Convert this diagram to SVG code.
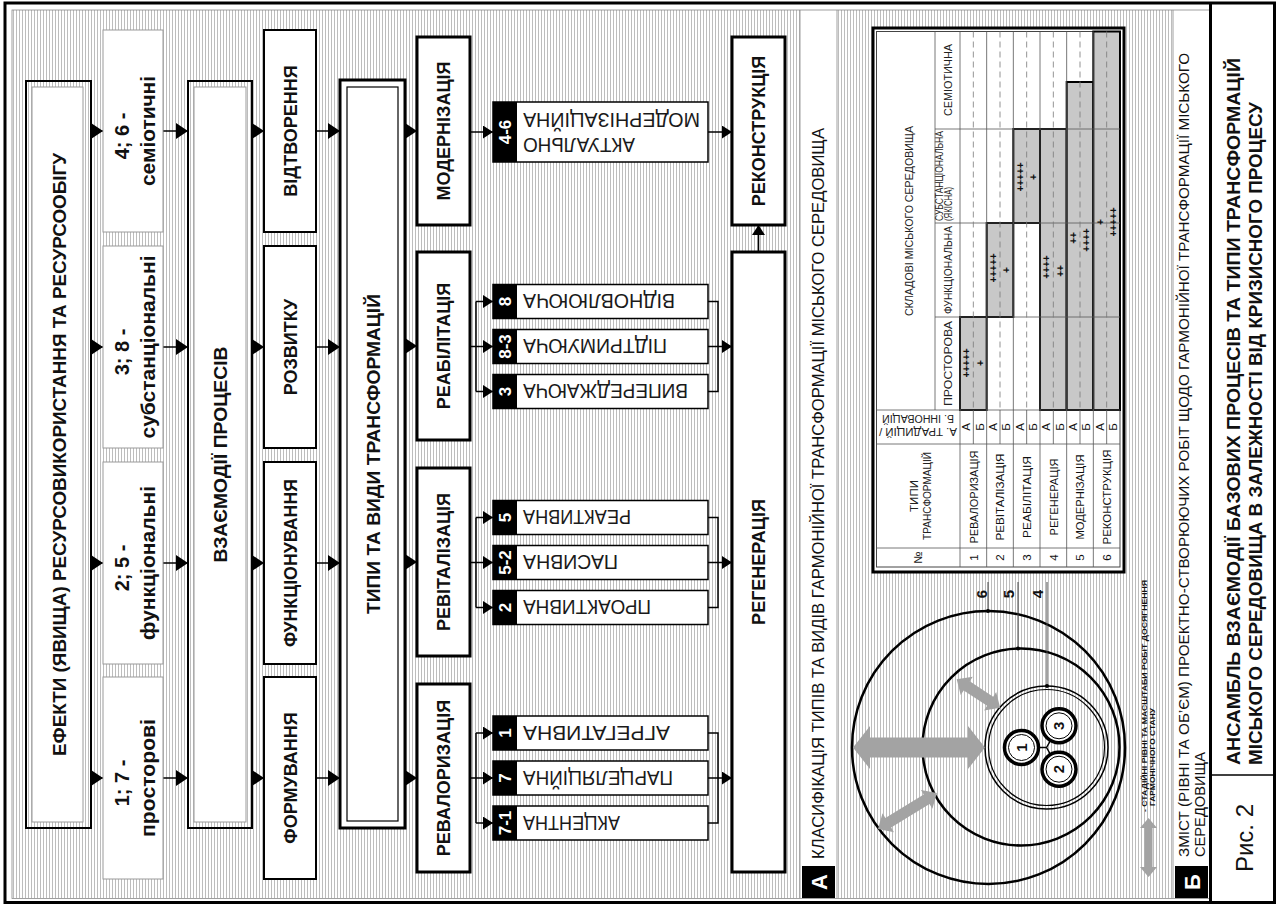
<svg xmlns="http://www.w3.org/2000/svg" width="1277" height="906" viewBox="0 0 1277 906">
<defs>
<pattern id="hatch" width="3" height="10" patternUnits="userSpaceOnUse"><rect width="3" height="10" fill="#fff"/><line x1="1.5" y1="0" x2="1.5" y2="10" stroke="#bdbdbd" stroke-width="1"/></pattern>
<marker id="ah" markerUnits="userSpaceOnUse" markerWidth="12" markerHeight="16" viewBox="0 0 12 16" refX="12" refY="8" orient="auto"><path d="M0,0L12,8L0,16z" fill="#000"/></marker>
<marker id="as" markerUnits="userSpaceOnUse" markerWidth="10" markerHeight="13" viewBox="0 0 10 13" refX="10" refY="6.5" orient="auto"><path d="M0,0L10,6.5L0,13z" fill="#000"/></marker>
<style>
text{font-family:"Liberation Sans",Arial,sans-serif;fill:#111}
.bd{font-weight:bold}
.w{fill:#fff}
.eb{fill:#fff;stroke:#9a9a9a;stroke-width:1}
.pb{fill:#fff;stroke:#000;stroke-width:2}
.tb{fill:#fff;stroke:#000;stroke-width:3}
.sb{fill:#fff;stroke:#000;stroke-width:1.5}
.badge{fill:#000}
.conn line,.conn path{stroke:#000;stroke-width:1.5;fill:none}
.arr{marker-end:url(#ah)}
.ars{marker-end:url(#as)}
.grid{stroke:#555;stroke-width:0.8;fill:none}
.dash{stroke:#777;stroke-width:0.8;stroke-dasharray:6 4;fill:none}
.shade{fill:#c8c8c8;stroke:#000;stroke-width:2}
.gar{fill:#a3a3a3}
.sub{font-size:20px;fill:#1a1a1a}
.badt{font-size:17px;font-weight:bold;fill:#fff}
.tt{font-size:11.5px;fill:#222}
.pl{font-size:10px;font-weight:bold}
</style>
</defs>

<!-- background and panels -->
<rect x="0" y="0" width="1277" height="906" fill="#fff"/>
<rect x="12" y="10" width="788" height="888" fill="url(#hatch)"/>
<rect x="837" y="10" width="336" height="888" fill="url(#hatch)"/>

<!-- frame -->
<g id="frame" fill="none">
<rect x="12" y="10" width="1198" height="888.5" stroke="#888" stroke-width="0.8"/>
<line x1="800" y1="10" x2="800" y2="898" stroke="#888" stroke-width="0.8"/>
<line x1="837" y1="10" x2="837" y2="898" stroke="#888" stroke-width="0.8"/>
<line x1="1173" y1="10" x2="1173" y2="898" stroke="#888" stroke-width="0.8"/>
<rect x="5" y="3" width="1269.5" height="899.5" stroke="#000" stroke-width="3"/>
<line x1="1210.5" y1="3" x2="1210.5" y2="902.5" stroke="#000" stroke-width="3"/>
<line x1="1210.5" y1="775" x2="1274.5" y2="775" stroke="#000" stroke-width="1.5"/>
</g>

<!-- connectors -->
<g id="connectors" class="conn">
<line class="arr" x1="91" y1="131" x2="103" y2="131"/>
<line class="arr" x1="91" y1="347" x2="103" y2="347"/>
<line class="arr" x1="91" y1="563" x2="103" y2="563"/>
<line class="arr" x1="91" y1="778" x2="103" y2="778"/>
<line class="arr" x1="163" y1="131" x2="188" y2="131"/>
<line class="arr" x1="163" y1="347" x2="188" y2="347"/>
<line class="arr" x1="163" y1="563" x2="188" y2="563"/>
<line class="arr" x1="163" y1="778" x2="188" y2="778"/>
<line class="arr" x1="252" y1="131" x2="264" y2="131"/>
<line class="arr" x1="252" y1="347" x2="264" y2="347"/>
<line class="arr" x1="252" y1="563" x2="264" y2="563"/>
<line class="arr" x1="252" y1="778" x2="264" y2="778"/>
<line class="arr" x1="316" y1="131" x2="340" y2="131"/>
<line class="arr" x1="316" y1="347" x2="340" y2="347"/>
<line class="arr" x1="316" y1="563" x2="340" y2="563"/>
<line class="arr" x1="316" y1="778" x2="340" y2="778"/>
<line class="arr" x1="405" y1="131" x2="417" y2="131"/>
<line class="arr" x1="405" y1="346" x2="417" y2="346"/>
<line class="arr" x1="405" y1="562" x2="417" y2="562"/>
<line class="arr" x1="405" y1="778" x2="417" y2="778"/>
<!-- type to sub-types -->
<line class="ars" x1="470" y1="132" x2="493" y2="132"/>
<line class="ars" x1="470" y1="346.5" x2="493" y2="346.5"/>
<path d="M476,301.5V391.5"/>
<line class="ars" x1="476" y1="301.5" x2="493" y2="301.5"/>
<line class="ars" x1="476" y1="391.5" x2="493" y2="391.5"/>
<line class="ars" x1="470" y1="562.5" x2="493" y2="562.5"/>
<path d="M476,517.5V607.5"/>
<line class="ars" x1="476" y1="517.5" x2="493" y2="517.5"/>
<line class="ars" x1="476" y1="607.5" x2="493" y2="607.5"/>
<line class="ars" x1="470" y1="778" x2="493" y2="778"/>
<path d="M476,733V823"/>
<line class="ars" x1="476" y1="733" x2="493" y2="733"/>
<line class="ars" x1="476" y1="823" x2="493" y2="823"/>
<!-- sub-types to results -->
<line class="ars" x1="708" y1="132" x2="732" y2="132"/>
<path d="M708,301.5H718V391.5H708"/>
<line class="ars" x1="708" y1="346.5" x2="732" y2="346.5"/>
<path d="M708,517.5H718V607.5H708"/>
<line class="ars" x1="708" y1="562.5" x2="732" y2="562.5"/>
<path d="M708,733H718V823H708"/>
<line class="ars" x1="708" y1="778" x2="732" y2="778"/>
<line class="ars" x1="758.5" y1="252" x2="758.5" y2="225"/>
</g>

<!-- column 1: effects -->
<g id="effects-main">
<rect x="26" y="81" width="65" height="747" fill="none" stroke="#000" stroke-width="2"/>
<rect x="32" y="87" width="51" height="735" class="eb"/>
<text class="bd" font-size="19" text-anchor="middle" textLength="603" lengthAdjust="spacingAndGlyphs" transform="translate(65.5 454.5) rotate(-90)">ЕФЕКТИ (ЯВИЩА) РЕСУРСОВИКОРИСТАННЯ ТА РЕСУРСООБІГУ</text>
</g>
<g id="effect-semiotic">
<rect x="103" y="30" width="60" height="202" class="eb"/>
<text class="bd" font-size="20" text-anchor="middle" transform="translate(128.5 136) rotate(-90)">4; 6 -</text>
<text class="bd" font-size="20" text-anchor="middle" textLength="110" lengthAdjust="spacingAndGlyphs" transform="translate(155 131) rotate(-90)">семіотичні</text>
</g>
<g id="effect-substantial">
<rect x="103" y="246" width="60" height="202" class="eb"/>
<text class="bd" font-size="20" text-anchor="middle" transform="translate(128.5 352) rotate(-90)">3; 8 -</text>
<text class="bd" font-size="20" text-anchor="middle" textLength="183" lengthAdjust="spacingAndGlyphs" transform="translate(155 347) rotate(-90)">субстанціональні</text>
</g>
<g id="effect-functional">
<rect x="103" y="462" width="60" height="202" class="eb"/>
<text class="bd" font-size="20" text-anchor="middle" transform="translate(128.5 568) rotate(-90)">2; 5 -</text>
<text class="bd" font-size="20" text-anchor="middle" textLength="154" lengthAdjust="spacingAndGlyphs" transform="translate(155 563) rotate(-90)">функціональні</text>
</g>
<g id="effect-spatial">
<rect x="103" y="677" width="60" height="202" class="eb"/>
<text class="bd" font-size="20" text-anchor="middle" transform="translate(128.5 783) rotate(-90)">1; 7 -</text>
<text class="bd" font-size="20" text-anchor="middle" textLength="118" lengthAdjust="spacingAndGlyphs" transform="translate(155 778) rotate(-90)">просторові</text>
</g>

<!-- column 2: processes -->
<g id="interaction">
<rect x="188" y="81" width="64" height="747" fill="none" stroke="#000" stroke-width="2"/>
<rect x="194" y="87" width="52" height="735" class="eb"/>
<text class="bd" font-size="19" text-anchor="middle" textLength="216" lengthAdjust="spacingAndGlyphs" transform="translate(227 454.5) rotate(-90)">ВЗАЄМОДІЇ ПРОЦЕСІВ</text>
</g>
<g id="proc-reproduction">
<rect x="264" y="30" width="52" height="202" class="pb"/>
<text class="bd" font-size="18" text-anchor="middle" transform="translate(296.5 131) rotate(-90)">ВІДТВОРЕННЯ</text>
</g>
<g id="proc-development">
<rect x="264" y="246" width="52" height="202" class="pb"/>
<text class="bd" font-size="18" text-anchor="middle" transform="translate(296.5 347) rotate(-90)">РОЗВИТКУ</text>
</g>
<g id="proc-functioning">
<rect x="264" y="462" width="52" height="202" class="pb"/>
<text class="bd" font-size="18" text-anchor="middle" textLength="168" lengthAdjust="spacingAndGlyphs" transform="translate(296.5 563) rotate(-90)">ФУНКЦІОНУВАННЯ</text>
</g>
<g id="proc-formation">
<rect x="264" y="677" width="52" height="202" class="pb"/>
<text class="bd" font-size="18" text-anchor="middle" transform="translate(296.5 778) rotate(-90)">ФОРМУВАННЯ</text>
</g>

<!-- column 3: types -->
<g id="types">
<rect x="340" y="80" width="65" height="748" class="tb"/>
<rect x="347" y="87" width="51" height="734" fill="#fff" stroke="#000" stroke-width="1.2"/>
<text class="bd" font-size="19" text-anchor="middle" textLength="320" lengthAdjust="spacingAndGlyphs" transform="translate(379.5 454) rotate(-90)">ТИПИ ТА ВИДИ ТРАНСФОРМАЦІЙ</text>
</g>
<g id="type-modernization">
<rect x="417" y="37" width="53" height="188" class="tb"/>
<text class="bd" font-size="18" text-anchor="middle" transform="translate(450 131) rotate(-90)">МОДЕРНІЗАЦІЯ</text>
</g>
<g id="type-rehabilitation">
<rect x="417" y="252" width="53" height="188" class="tb"/>
<text class="bd" font-size="18" text-anchor="middle" transform="translate(450 346) rotate(-90)">РЕАБІЛІТАЦІЯ</text>
</g>
<g id="type-revitalization">
<rect x="417" y="468" width="53" height="188" class="tb"/>
<text class="bd" font-size="18" text-anchor="middle" transform="translate(450 562) rotate(-90)">РЕВІТАЛІЗАЦІЯ</text>
</g>
<g id="type-revalorization">
<rect x="417" y="684" width="53" height="188" class="tb"/>
<text class="bd" font-size="18" text-anchor="middle" transform="translate(450 778) rotate(-90)">РЕВАЛОРИЗАЦІЯ</text>
</g>

<!-- sub-types -->
<g id="sub-4-6">
<rect x="493" y="102" width="215" height="60" class="sb"/>
<rect x="493" y="102" width="24" height="60" class="badge"/>
<text class="badt" text-anchor="middle" transform="translate(511 132) rotate(-90)">4-6</text>
<text class="sub" text-anchor="end" textLength="112" lengthAdjust="spacingAndGlyphs" transform="translate(523 137.5) rotate(180)">АКТУАЛЬНО</text>
<text class="sub" text-anchor="end" textLength="177" lengthAdjust="spacingAndGlyphs" transform="translate(523 113) rotate(180)">МОДЕРНІЗАЦІЙНА</text>
</g>
<g id="sub-8">
<rect x="493" y="284.5" width="215" height="34" class="sb"/>
<rect x="493" y="284.5" width="24" height="34" class="badge"/>
<text class="badt" text-anchor="middle" transform="translate(511 301.5) rotate(-90)">8</text>
<text class="sub" text-anchor="end" textLength="152" lengthAdjust="spacingAndGlyphs" transform="translate(523 294.3) rotate(180)">ВІДНОВЛЮЮЧА</text>
</g>
<g id="sub-8-3">
<rect x="493" y="329.5" width="215" height="34" class="sb"/>
<rect x="493" y="329.5" width="24" height="34" class="badge"/>
<text class="badt" text-anchor="middle" transform="translate(511 346.5) rotate(-90)">8-3</text>
<text class="sub" text-anchor="end" textLength="144" lengthAdjust="spacingAndGlyphs" transform="translate(523 339.3) rotate(180)">ПІДТРИМУЮЧА</text>
</g>
<g id="sub-3">
<rect x="493" y="374.5" width="215" height="34" class="sb"/>
<rect x="493" y="374.5" width="24" height="34" class="badge"/>
<text class="badt" text-anchor="middle" transform="translate(511 391.5) rotate(-90)">3</text>
<text class="sub" text-anchor="end" textLength="165" lengthAdjust="spacingAndGlyphs" transform="translate(523 384.3) rotate(180)">ВИПЕРЕДЖАЮЧА</text>
</g>
<g id="sub-5">
<rect x="493" y="500.5" width="215" height="34" class="sb"/>
<rect x="493" y="500.5" width="24" height="34" class="badge"/>
<text class="badt" text-anchor="middle" transform="translate(511 517.5) rotate(-90)">5</text>
<text class="sub" text-anchor="end" textLength="108" lengthAdjust="spacingAndGlyphs" transform="translate(523 510.3) rotate(180)">РЕАКТИВНА</text>
</g>
<g id="sub-5-2">
<rect x="493" y="545.5" width="215" height="34" class="sb"/>
<rect x="493" y="545.5" width="24" height="34" class="badge"/>
<text class="badt" text-anchor="middle" transform="translate(511 562.5) rotate(-90)">5-2</text>
<text class="sub" text-anchor="end" textLength="95" lengthAdjust="spacingAndGlyphs" transform="translate(523 555.3) rotate(180)">ПАСИВНА</text>
</g>
<g id="sub-2">
<rect x="493" y="590.5" width="215" height="34" class="sb"/>
<rect x="493" y="590.5" width="24" height="34" class="badge"/>
<text class="badt" text-anchor="middle" transform="translate(511 607.5) rotate(-90)">2</text>
<text class="sub" text-anchor="end" textLength="128" lengthAdjust="spacingAndGlyphs" transform="translate(523 600.3) rotate(180)">ПРОАКТИВНА</text>
</g>
<g id="sub-1">
<rect x="493" y="716" width="215" height="34" class="sb"/>
<rect x="493" y="716" width="24" height="34" class="badge"/>
<text class="badt" text-anchor="middle" transform="translate(511 733) rotate(-90)">1</text>
<text class="sub" text-anchor="end" textLength="147" lengthAdjust="spacingAndGlyphs" transform="translate(523 725.8) rotate(180)">АГРЕГАТИВНА</text>
</g>
<g id="sub-7">
<rect x="493" y="761" width="215" height="34" class="sb"/>
<rect x="493" y="761" width="24" height="34" class="badge"/>
<text class="badt" text-anchor="middle" transform="translate(511 778) rotate(-90)">7</text>
<text class="sub" text-anchor="end" textLength="150" lengthAdjust="spacingAndGlyphs" transform="translate(523 770.8) rotate(180)">ПАРЦЕЛЯЦІЙНА</text>
</g>
<g id="sub-7-1">
<rect x="493" y="806" width="215" height="34" class="sb"/>
<rect x="493" y="806" width="24" height="34" class="badge"/>
<text class="badt" text-anchor="middle" transform="translate(511 823) rotate(-90)">7-1</text>
<text class="sub" text-anchor="end" textLength="97" lengthAdjust="spacingAndGlyphs" transform="translate(523 815.8) rotate(180)">АКЦЕНТНА</text>
</g>

<!-- results -->
<g id="reconstruction">
<rect x="732" y="37" width="53" height="188" class="tb"/>
<text class="bd" font-size="18" text-anchor="middle" transform="translate(765 131) rotate(-90)">РЕКОНСТРУКЦІЯ</text>
</g>
<g id="regeneration">
<rect x="732" y="252" width="53" height="620" class="tb"/>
<text class="bd" font-size="18" text-anchor="middle" transform="translate(765 562) rotate(-90)">РЕГЕНЕРАЦІЯ</text>
</g>

<!-- caption A -->
<g id="caption-a">
<rect x="802" y="866" width="33" height="32" fill="#000"/>
<text class="bd w" font-size="22" text-anchor="middle" transform="translate(826.5 882) rotate(-90)">А</text>
<text font-size="17" fill="#222" textLength="731" lengthAdjust="spacingAndGlyphs" transform="translate(824 859) rotate(-90)">КЛАСИФІКАЦІЯ ТИПІВ ТА ВИДІВ ГАРМОНІЙНОЇ ТРАНСФОРМАЦІЇ МІСЬКОГО СЕРЕДОВИЩА</text>
</g>

<!-- table -->
<g id="table">
<rect x="873" y="28" width="251" height="544" fill="#fff" stroke="#000" stroke-width="3"/>
<rect x="876.5" y="31.5" width="243.5" height="535.5" fill="#fff" stroke="#444" stroke-width="1"/>
<rect x="960" y="317" width="26.67" height="93" class="shade"/>
<rect x="986.67" y="223" width="26.67" height="94" class="shade"/>
<rect x="1013.33" y="129" width="26.67" height="94" class="shade"/>
<rect x="1040" y="129" width="26.67" height="281" class="shade"/>
<rect x="1066.67" y="82" width="26.67" height="328" class="shade"/>
<rect x="1093.33" y="31.5" width="26.67" height="378.5" class="shade"/>
<path class="grid" d="M935,31.5V410M960,31.5V567M876.5,410H1120M876.5,444H1120M876.5,548H1120M935,317H1120M935,223H1120M935,129H1120M986.67,31.5V567M1013.33,31.5V567M1040,31.5V567M1066.67,31.5V567M1093.33,31.5V567"/>
<path class="dash" d="M973.33,31.5V410M1000,31.5V410M1026.67,31.5V410M1053.33,31.5V410M1080,31.5V410M1106.67,31.5V410"/>
<path class="grid" d="M973.33,410V444M1000,410V444M1026.67,410V444M1053.33,410V444M1080,410V444M1106.67,410V444"/>
<!-- header -->
<text class="tt" font-size="11" text-anchor="middle" transform="translate(922 557.5) rotate(-90)">№</text>
<text class="tt" font-size="11" text-anchor="middle" transform="translate(917.5 496) rotate(-90)">ТИПИ</text>
<text class="tt" font-size="11" text-anchor="middle" textLength="88" lengthAdjust="spacingAndGlyphs" transform="translate(931 496) rotate(-90)">ТРАНСФОРМАЦІЙ</text>
<text class="tt" font-size="9.5" text-anchor="middle" textLength="78" lengthAdjust="spacingAndGlyphs" transform="translate(918 427.5) rotate(180)">А. ТРАДИЦІЙ /</text>
<text class="tt" font-size="9.5" text-anchor="middle" textLength="72" lengthAdjust="spacingAndGlyphs" transform="translate(918 414.5) rotate(180)">Б. ІННОВАЦІЙ</text>
<text class="tt" font-size="12" text-anchor="middle" textLength="190" lengthAdjust="spacingAndGlyphs" transform="translate(913 221) rotate(-90)">СКЛАДОВІ МІСЬКОГО СЕРЕДОВИЩА</text>
<text class="tt" font-size="11" text-anchor="middle" textLength="85" lengthAdjust="spacingAndGlyphs" transform="translate(951.5 363.5) rotate(-90)">ПРОСТОРОВА</text>
<text class="tt" font-size="11" text-anchor="middle" textLength="88" lengthAdjust="spacingAndGlyphs" transform="translate(951.5 270) rotate(-90)">ФУНКЦІОНАЛЬНА</text>
<text class="tt" font-size="8" textLength="90" lengthAdjust="spacingAndGlyphs" transform="translate(942.5 221) rotate(-90)">СУБСТАНЦІОНАЛЬНА</text>
<text class="tt" font-size="7.5" textLength="34" lengthAdjust="spacingAndGlyphs" transform="translate(951.5 221) rotate(-90)">(ЯКІСНА)</text>
<text class="tt" font-size="11" text-anchor="middle" textLength="72" lengthAdjust="spacingAndGlyphs" transform="translate(951.5 80) rotate(-90)">СЕМІОТИЧНА</text>
<!-- rows -->
<g class="tt" text-anchor="middle">
<text transform="translate(977.5 557.5) rotate(-90)">1</text>
<text transform="translate(1004.2 557.5) rotate(-90)">2</text>
<text transform="translate(1030.8 557.5) rotate(-90)">3</text>
<text transform="translate(1057.5 557.5) rotate(-90)">4</text>
<text transform="translate(1084.2 557.5) rotate(-90)">5</text>
<text transform="translate(1110.8 557.5) rotate(-90)">6</text>
<text textLength="93" lengthAdjust="spacingAndGlyphs" transform="translate(977.5 497) rotate(-90)">РЕВАЛОРИЗАЦІЯ</text>
<text textLength="87" lengthAdjust="spacingAndGlyphs" transform="translate(1004.2 497) rotate(-90)">РЕВІТАЛІЗАЦІЯ</text>
<text textLength="82" lengthAdjust="spacingAndGlyphs" transform="translate(1030.8 497) rotate(-90)">РЕАБІЛІТАЦІЯ</text>
<text textLength="77" lengthAdjust="spacingAndGlyphs" transform="translate(1057.5 497) rotate(-90)">РЕГЕНЕРАЦІЯ</text>
<text textLength="85" lengthAdjust="spacingAndGlyphs" transform="translate(1084.2 497) rotate(-90)">МОДЕРНІЗАЦІЯ</text>
<text textLength="95" lengthAdjust="spacingAndGlyphs" transform="translate(1110.8 497) rotate(-90)">РЕКОНСТРУКЦІЯ</text>
</g>
<g class="tt" font-size="9.5" text-anchor="middle">
<text transform="translate(970.3 427) rotate(-90)">А</text>
<text transform="translate(983.7 427) rotate(-90)">Б</text>
<text transform="translate(997 427) rotate(-90)">А</text>
<text transform="translate(1010.3 427) rotate(-90)">Б</text>
<text transform="translate(1023.7 427) rotate(-90)">А</text>
<text transform="translate(1037 427) rotate(-90)">Б</text>
<text transform="translate(1050.3 427) rotate(-90)">А</text>
<text transform="translate(1063.7 427) rotate(-90)">Б</text>
<text transform="translate(1077 427) rotate(-90)">А</text>
<text transform="translate(1090.3 427) rotate(-90)">Б</text>
<text transform="translate(1103.7 427) rotate(-90)">А</text>
<text transform="translate(1117 427) rotate(-90)">Б</text>
</g>
<g class="pl" text-anchor="middle">
<text transform="translate(970.1 363) rotate(-90)">+++++</text>
<text transform="translate(983.5 363) rotate(-90)">+</text>
<text transform="translate(996.8 268) rotate(-90)">+++++</text>
<text transform="translate(1010.1 270) rotate(-90)">+</text>
<text transform="translate(1023.5 177) rotate(-90)">+++++</text>
<text transform="translate(1036.8 177) rotate(-90)">+</text>
<text transform="translate(1050.1 267) rotate(-90)">++++</text>
<text transform="translate(1063.5 271) rotate(-90)">++</text>
<text transform="translate(1076.8 238) rotate(-90)">++</text>
<text transform="translate(1090.1 240) rotate(-90)">++++</text>
<text transform="translate(1103.5 222) rotate(-90)">+</text>
<text transform="translate(1116.8 222) rotate(-90)">+++++</text>
</g>
</g>

<!-- circles scheme -->
<g id="levels">
<circle cx="988.5" cy="747.5" r="136.5" fill="none" stroke="#000" stroke-width="2.5"/>
<circle cx="1021" cy="747" r="98.5" fill="none" stroke="#000" stroke-width="2.5"/>
<circle cx="1046.5" cy="747.5" r="61.5" fill="none" stroke="#000" stroke-width="1.5"/>
<circle cx="1046.5" cy="747.5" r="58" fill="none" stroke="#000" stroke-width="1.2"/>
<path d="M988,582V611M1018,582V648.5M1047,582V686" stroke="#444" stroke-width="1" fill="none"/>
<circle cx="988" cy="611" r="2" fill="#000"/>
<circle cx="1018" cy="648.5" r="2" fill="#000"/>
<circle cx="1047" cy="686" r="2" fill="#000"/>
<text class="bd" font-size="15" text-anchor="middle" transform="translate(986.5 594) rotate(-90)">6</text>
<text class="bd" font-size="15" text-anchor="middle" transform="translate(1014 594) rotate(-90)">5</text>
<text class="bd" font-size="15" text-anchor="middle" transform="translate(1043 594) rotate(-90)">4</text>
<polygon class="gar" points="853,747.5 870,726 870,737.5 968,737.5 968,726 985,747.5 968,769 968,757.5 870,757.5 870,769"/>
<polygon class="gar" transform="translate(956.7 679.3) rotate(33.3)" points="0,0 12,-11 12,-5.5 40,-5.5 40,-11 52,0 40,11 40,5.5 12,5.5 12,11"/>
<polygon class="gar" transform="translate(878 829) rotate(-31.4)" points="0,0 12,-11 12,-5.5 57,-5.5 57,-11 69,0 57,11 57,5.5 12,5.5 12,11"/>
</g>
<g id="core">
<path d="M1046.5,747.5L1021.5,747.5M1046.5,747.5L1059,725.8M1046.5,747.5L1059,769.2" stroke="#000" stroke-width="1.5"/>
<circle cx="1021.5" cy="747.5" r="17" fill="#fff" stroke="#000" stroke-width="3.5"/>
<circle cx="1021.5" cy="747.5" r="13" fill="none" stroke="#000" stroke-width="1"/>
<circle cx="1059" cy="725.8" r="17" fill="#fff" stroke="#000" stroke-width="3.5"/>
<circle cx="1059" cy="725.8" r="13" fill="none" stroke="#000" stroke-width="1"/>
<circle cx="1059" cy="769.2" r="17" fill="#fff" stroke="#000" stroke-width="3.5"/>
<circle cx="1059" cy="769.2" r="13" fill="none" stroke="#000" stroke-width="1"/>
<text class="bd" font-size="15" text-anchor="middle" transform="translate(1026.9 747.5) rotate(-90)">1</text>
<text class="bd" font-size="15" text-anchor="middle" transform="translate(1064.4 725.8) rotate(-90)">3</text>
<text class="bd" font-size="15" text-anchor="middle" transform="translate(1064.4 769.2) rotate(-90)">2</text>
</g>

<!-- legend -->
<g id="legend">
<polygon class="gar" transform="translate(1148.5 818) rotate(90)" points="0,0 10,-8.5 10,-4 49,-4 49,-8.5 59,0 49,8.5 49,4 10,4 10,8.5"/>
<text class="bd" font-size="7.5" fill="#222" textLength="232" lengthAdjust="spacingAndGlyphs" transform="translate(1146.5 812) rotate(-90)">- СТАДІЙНІ РІВНІ ТА МАСШТАБИ РОБІТ ДОСЯГНЕННЯ</text>
<text class="bd" font-size="7.5" fill="#222" textLength="98" lengthAdjust="spacingAndGlyphs" transform="translate(1155 806) rotate(-90)">ГАРМОНІЧНОГО СТАНУ</text>
</g>

<!-- caption Б -->
<g id="caption-b">
<rect x="1175" y="866" width="33" height="32" fill="#000"/>
<text class="bd w" font-size="22" text-anchor="middle" transform="translate(1199.5 882) rotate(-90)">Б</text>
<text font-size="15" fill="#222" textLength="804" lengthAdjust="spacingAndGlyphs" transform="translate(1189 857) rotate(-90)">ЗМІСТ (РІВНІ ТА ОБ’ЄМ) ПРОЕКТНО-СТВОРЮЮЧИХ РОБІТ ЩОДО ГАРМОНІЙНОЇ ТРАНСФОРМАЦІЇ МІСЬКОГО</text>
<text font-size="15" fill="#222" textLength="105" lengthAdjust="spacingAndGlyphs" transform="translate(1205 857) rotate(-90)">СЕРЕДОВИЩА</text>
</g>

<!-- title block -->
<g id="title">
<text font-size="24" fill="#333" text-anchor="middle" transform="translate(1253 838) rotate(-90)">Рис. 2</text>
<text class="bd" font-size="18" textLength="707" lengthAdjust="spacingAndGlyphs" transform="translate(1240 765) rotate(-90)">АНСАМБЛЬ ВЗАЄМОДІЇ БАЗОВИХ ПРОЦЕСІВ ТА ТИПИ ТРАНСФОРМАЦІЙ</text>
<text class="bd" font-size="18" textLength="663" lengthAdjust="spacingAndGlyphs" transform="translate(1262 765) rotate(-90)">МІСЬКОГО СЕРЕДОВИЩА В ЗАЛЕЖНОСТІ ВІД КРИЗИСНОГО ПРОЦЕСУ</text>
</g>
</svg>
